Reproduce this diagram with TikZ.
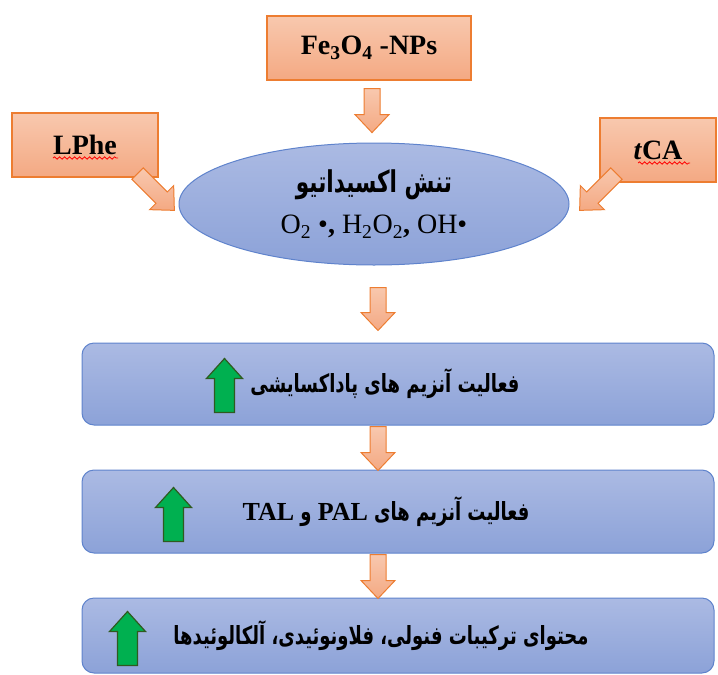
\documentclass[tikz,border=0pt]{standalone}
\usepackage{fontspec}
\setmainfont{Liberation Serif}
\newfontfamily\farsi[Script=Arabic,FakeStretch=0.72]{DejaVu Sans}
\TeXXeTstate=1
\usetikzlibrary{shapes.geometric,calc,decorations.pathmorphing}

\definecolor{orline}{HTML}{ED7D31}
\definecolor{ortop}{HTML}{F8C8AE}
\definecolor{orbot}{HTML}{F4A983}
\definecolor{blline}{HTML}{5F83CC}
\definecolor{bltop}{HTML}{ABBAE3}
\definecolor{blbot}{HTML}{8CA2D8}
\definecolor{grfill}{HTML}{00B050}
\definecolor{grline}{HTML}{2F5A1F}

\tikzset{
  srcbox/.style={draw=orline, line width=1.2, top color=ortop, bottom color=orbot,
    minimum height=64, inner sep=0, font=\fontsize{28}{32}\selectfont\bfseries},
  stagebox/.style={draw=blline, line width=1, rounded corners=12,
    top color=bltop, bottom color=blbot, minimum width=632, inner sep=0},
  stagetext/.style={inner sep=0, font=\farsi\bfseries\fontsize{25}{28}\selectfont},
  spellmark/.style={red, line width=0.8, decorate,
    decoration={snake, segment length=5, amplitude=1.2}},
  pics/orarrow/.style={code={
    \draw[orline, line width=1, top color=ortop, bottom color=orbot]
      (-8,0) -- (8,0) -- (8,#1-18) -- (17,#1-18) -- (0,#1)
      -- (-17,#1-18) -- (-8,#1-18) -- cycle;}},
  pics/uparrow/.style={code={
    \draw[grline, line width=1.2, fill=grfill]
      (-10,0) -- (10,0) -- (10,-34) -- (18,-34) -- (0,-54)
      -- (-18,-34) -- (-10,-34) -- cycle;}}
}
\newcommand{\latword}[1]{{\rmfamily\fontsize{26}{28}\selectfont #1}}

\begin{document}
\begin{tikzpicture}[x=1pt, y=-1pt]
    \useasboundingbox (0,0) rectangle (718,675);

    % Sources
    \node[srcbox, minimum width=204] (fe) at (369,48) {Fe\textsubscript{3}O\textsubscript{4} -NPs};
    \node[srcbox, minimum width=146] (lphe) at (85,145) {LPhe};
    \node[srcbox, minimum width=116] (tca) at (658,150) {\textit{t}CA};

    % spell-check marks
    \draw[spellmark] ($(lphe.center)+(-32,13)$) -- ($(lphe.center)+(33,13)$);
    \draw[spellmark] ($(tca.center)+(-20,13)$) -- ($(tca.center)+(32,13)$);

    % Oxidative stress
    \node[ellipse, draw=blline, line width=1, top color=bltop, bottom color=blbot,
      minimum width=390, minimum height=122, inner sep=0, align=center] (ros) at (374,204)
      {{\farsi\bfseries\fontsize{30}{34}\selectfont\beginR تنش اکسیداتیو\endR}\\[14pt]
       {\fontsize{28}{32}\selectfont O\textsubscript{2} \textbullet{\bfseries,}
        H\textsubscript{2}O\textsubscript{2}{\bfseries,} OH\textbullet}};

    % Stages
    \node[stagebox, minimum height=82] (s1) at (398,384) {};
    \node[stagebox, minimum height=83] (s2) at (398,511.5) {};
    \node[stagebox, minimum height=75] (s3) at (398,635.5) {};

    \node[stagetext] (t1) at ($(s1.center)+(-13,0)$) {\beginR فعالیت آنزیم های پاداکسایشی\endR};
    \node[stagetext] (t2) at ($(s2.center)+(-12,0)$)
      {\beginR فعالیت آنزیم های \latword{PAL} و \latword{TAL}\endR};
    \node[stagetext] (t3) at ($(s3.center)+(-17,0)$)
      {\beginR محتوای ترکیبات فنولی، فلاونوئیدی، آلکالوئیدها\endR};

    % Increase marks
    \pic at ($(s1.south west)+(143,-13)$) {uparrow};
    \pic at ($(s2.south west)+(92,-12)$) {uparrow};
    \pic at ($(s3.south west)+(46,-8)$) {uparrow};

    % Orange arrows
    \pic at ($(fe.south)+(3,8)$) {orarrow=44};
    \pic[rotate=45] at ($(lphe.south east)+(-21,-4)$) {orarrow=52};
    \pic[rotate=-45] at ($(tca.south west)+(17,-9)$) {orarrow=52};
    \pic at ($(ros.south)+(4,22)$) {orarrow=43};
    \pic at ($(s1.south)+(-20,1)$) {orarrow=44};
    \pic at ($(s2.south)+(-20,1)$) {orarrow=44};

\end{tikzpicture}
\end{document}
